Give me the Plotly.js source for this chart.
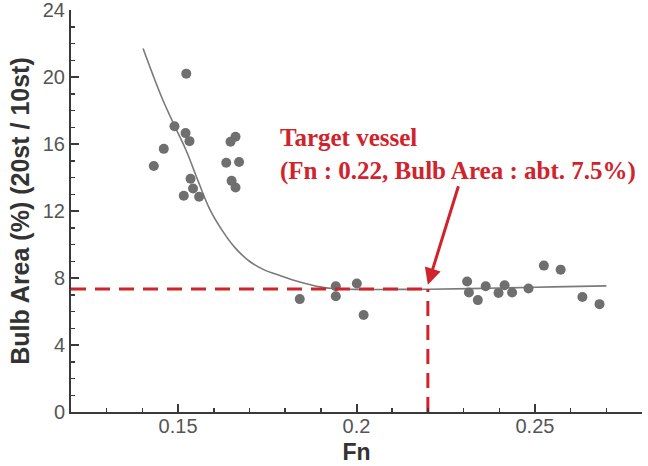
<!DOCTYPE html>
<html><head><meta charset="utf-8">
<script src="https://cdn.plot.ly/plotly-3.0.1.min.js"></script>
<style>html,body{margin:0;padding:0;background:#fff}#c{width:648px;height:466px}</style>
</head><body><div id="c"></div>
<script>
// Scatter data: Froude number vs bulb area (%)
const ptFn = [0.1523,0.1490,0.1521,0.1532,0.1460,0.1432,0.1661,0.1647,0.1635,0.1671,0.1650,0.1661,0.1535,0.1542,0.1516,0.1559,
  0.1841,0.1942,0.1942,0.2001,0.2020,
  0.2310,0.2315,0.2340,0.2362,0.2398,0.2415,0.2436,0.2482,0.2525,0.2572,0.2633,0.2681];
const ptArea = [20.2,17.06,16.65,16.17,15.71,14.69,16.43,16.13,14.88,14.93,13.80,13.40,13.93,13.34,12.91,12.85,
  6.74,7.51,6.91,7.67,5.79,
  7.79,7.13,6.68,7.51,7.11,7.57,7.13,7.37,8.74,8.50,6.87,6.44];
// Fitted trend curve
const fitFn = [0.1402,0.1430,0.1458,0.1490,0.1523,0.1556,0.1589,0.1625,0.1660,0.1700,0.1740,0.1785,0.1841,0.1897,0.1933,0.2000,0.2120,0.2205,0.2400,0.2550,0.2700];
const fitArea = [21.7,20.1,18.6,17.1,15.6,13.8,12.1,10.8,9.8,9.0,8.5,8.15,7.76,7.47,7.37,7.32,7.32,7.33,7.40,7.47,7.53];
// Target vessel guide
const targetFn = 0.22;
const targetArea = 7.35;
const xRange = [0.12, 0.28];
const yRange = [0, 24.001];
const xTicks = [0.15, 0.2, 0.25];
const xTickText = ['0.15', '0.2', '0.25'];
const yTicks = [0, 4, 8, 12, 16, 20, 24];
const yTickText = ['0', '4', '8', '12', '16', '20', '24'];

const red = '#d0232b';
const traces = [
  {x: fitFn, y: fitArea, mode: 'lines', line: {color: '#7a7a7a', width: 1.6, shape: 'spline'}, hoverinfo: 'skip'},
  {x: ptFn, y: ptArea, mode: 'markers', marker: {color: '#6f6f6f', size: 10}},
  {x: [xRange[0], targetFn], y: [targetArea, targetArea], mode: 'lines', line: {color: red, width: 3, dash: '15px,9px'}},
  {x: [targetFn, targetFn], y: [0, targetArea], mode: 'lines', line: {color: red, width: 3, dash: '15px,9px'}}
];

const axisCommon = {
  showgrid: false, zeroline: false, showline: true, linecolor: '#3a3a3a', linewidth: 2,
  ticks: 'inside', ticklen: 8, tickwidth: 2, tickcolor: '#3a3a3a', ticklabeloverflow: 'allow',
  tickfont: {family: 'Liberation Sans, Arial, sans-serif', size: 20, color: '#555'}
};

const layout = {
  width: 648, height: 466,
  margin: {l: 71, r: 6, t: 10, b: 54},
  paper_bgcolor: '#fff', plot_bgcolor: '#fff',
  showlegend: false,
  xaxis: Object.assign({}, axisCommon, {
    range: xRange, tickmode: 'array', tickvals: xTicks, ticktext: xTickText, ticklabelstandoff: -5,
    minor: {dtick: 0.01, tick0: 0.12, ticks: 'inside', ticklen: 4, tickwidth: 1.5, tickcolor: '#3a3a3a'},
    title: {text: 'Fn', font: {family: 'Liberation Sans, Arial, sans-serif', size: 23, color: '#333', weight: 'bold'}, standoff: 8}
  }),
  yaxis: Object.assign({}, axisCommon, {
    range: yRange, tickmode: 'array', tickvals: yTicks, ticktext: yTickText,
    minor: {dtick: 1, tick0: 0, ticks: 'inside', ticklen: 4, tickwidth: 1.5, tickcolor: '#3a3a3a'},
    title: {text: 'Bulb Area (%) (20st / 10st)', font: {family: 'Liberation Sans, Arial, sans-serif', size: 25, color: '#333', weight: 'bold'}, standoff: 6}
  }),
  annotations: [
    {x: 0.1779, y: 15.38, xref: 'x', yref: 'y', xanchor: 'left', yanchor: 'middle', align: 'left', showarrow: false,
     text: 'Target vessel<br>(Fn : 0.22, Bulb Area : abt. 7.5%)',
     font: {family: 'Liberation Serif, Times New Roman, serif', size: 25, color: red, weight: 'bold'}},
    {x: targetFn, y: 7.6, xref: 'x', yref: 'y', ax: 31, ay: -100, axref: 'pixel', ayref: 'pixel', showarrow: true,
     arrowhead: 2, arrowsize: 1.1, arrowwidth: 3, arrowcolor: red, text: ''}
  ]
};

Plotly.newPlot('c', traces, layout, {displayModeBar: false, staticPlot: true});
</script>
</body></html>
